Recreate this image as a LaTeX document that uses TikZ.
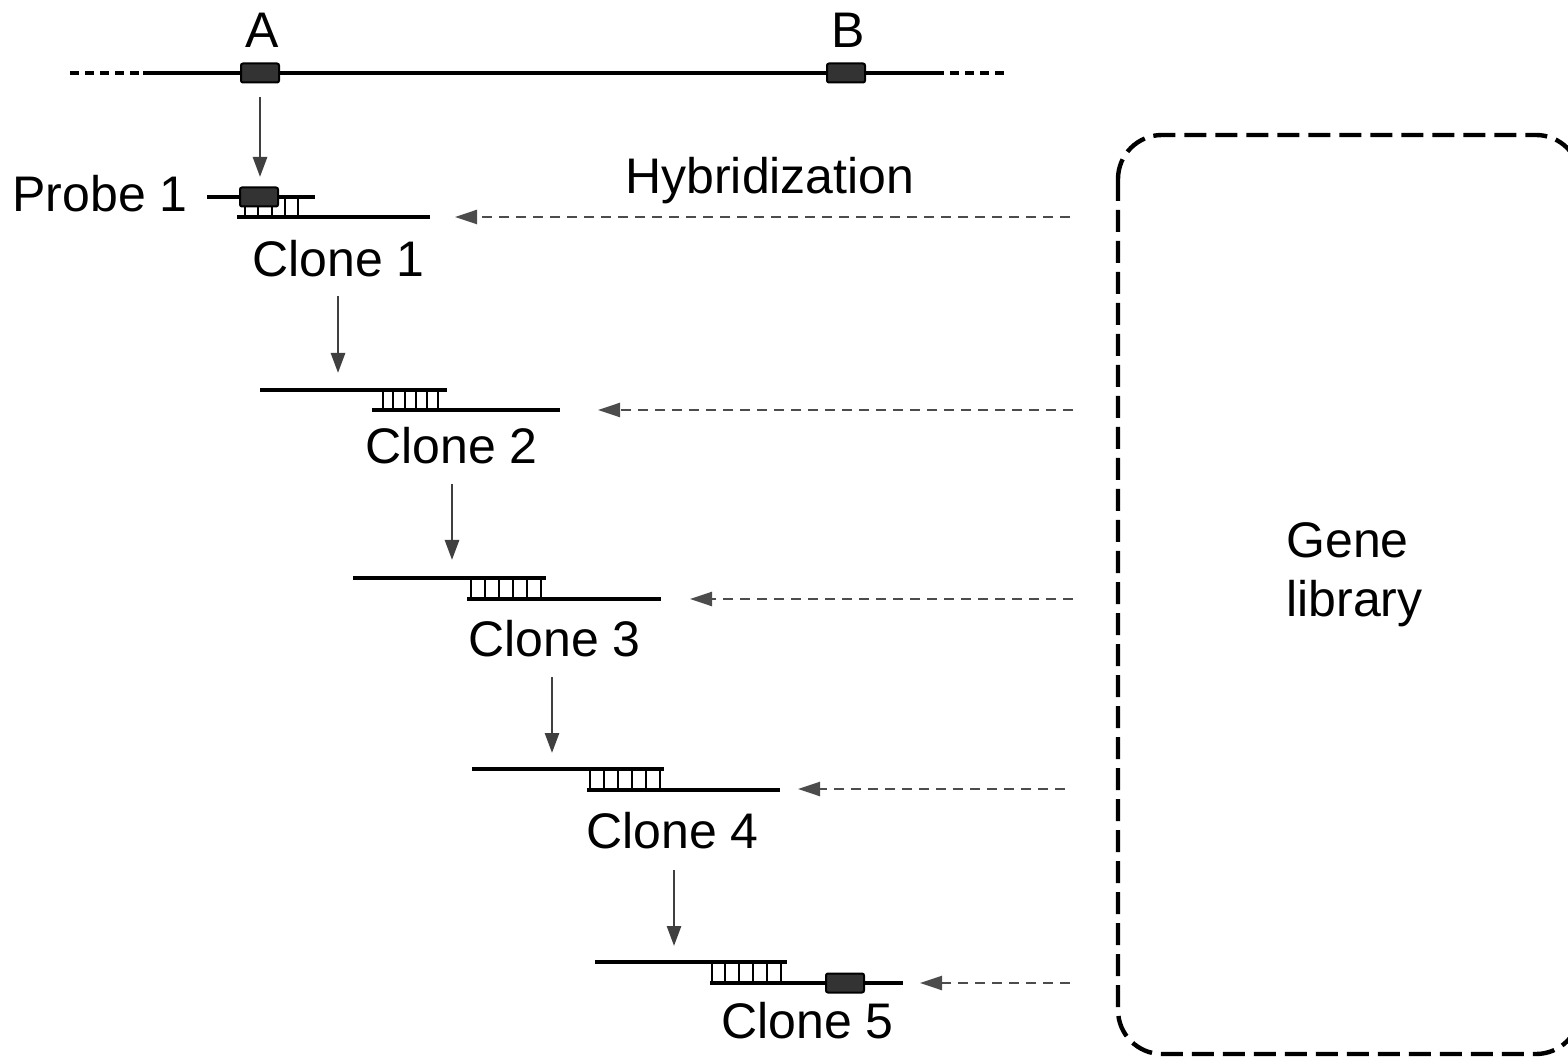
\documentclass[tikz,border=0pt]{standalone}
\usepackage{fontspec}
\setmainfont{Liberation Sans}
\usetikzlibrary{arrows.meta}
\begin{document}
\begin{tikzpicture}[x=0.5pt,y=-0.5pt,
  dna/.style={line width=2.4pt, draw=black},
  dnadash/.style={line width=2.4pt, draw=black, dash pattern=on 4.5pt off 3pt},
  rung/.style={line width=1.4pt, draw=black},
  genebox/.style={draw=black, fill=black!80, line width=1pt, rounded corners=1pt,
    minimum width=19pt, minimum height=9.5pt, inner sep=0pt},
  lbl/.style={font=\fontsize{25}{30}\selectfont, inner sep=0pt},
  walkarrow/.style={draw=black!75, line width=1.4pt, -{Triangle[length=10pt,width=7pt]}},
  libarrow/.style={draw=black!70, line width=1.2pt, dash pattern=on 5pt off 3.5pt,
    -{Triangle[length=11pt,width=7pt]}},
  libbox/.style={draw=black, line width=2.2pt, dash pattern=on 11pt off 4.5pt, rounded corners=22pt},
]
\useasboundingbox (0,0) rectangle (1568,1058);
\clip (0,0) rectangle (1568,1058);

% chromosome
\coordinate (c0) at (70,73);
\coordinate (c1) at (143,73);
\coordinate (c2) at (935,73);
\coordinate (c3) at (1008,73);
\draw[dnadash] (c0) -- (c1);
\draw[dna] (c1) -- (c2);
\draw[dnadash] (c2) -- (c3);
\node[genebox] (boxA) at (260,73) {};
\node[genebox] (boxB) at (846,73) {};
\node[lbl, anchor=base] (labA) at (262,48) {A};
\node[lbl, anchor=base] (labB) at (848,48) {B};

% arrow A -> probe
\coordinate (a0s) at (260,97);
\coordinate (a0e) at (260,177);
\draw[walkarrow] (a0s) -- (a0e);

% probe 1 / clone 1
\node[lbl, anchor=base west] (probe) at (12,212) {Probe 1};
\coordinate (p0) at (207,197);
\coordinate (p1) at (315,197);
\coordinate (k1a) at (237,217);
\coordinate (k1b) at (430,217);
\foreach \x in {245,258,272,285,298} \draw[rung] (\x,197) -- (\x,217);
\draw[dna] (p0) -- (p1);
\draw[dna] (k1a) -- (k1b);
\node[genebox] (boxP) at (259,197) {};
\node[lbl, anchor=base west] (clone1) at (252,277) {Clone 1};

\node[lbl, anchor=base west] (hyb) at (625,194) {Hybridization};

% clone 2
\coordinate (a1s) at (338,296);
\coordinate (a1e) at (338,373);
\draw[walkarrow] (a1s) -- (a1e);
\foreach \x in {383,393,405,416,427,438} \draw[rung] (\x,390) -- (\x,410);
\coordinate (t2a) at (260,390); \coordinate (t2b) at (447,390);
\coordinate (b2a) at (372,410); \coordinate (b2b) at (560,410);
\draw[dna] (t2a) -- (t2b);
\draw[dna] (b2a) -- (b2b);
\node[lbl, anchor=base west] (clone2) at (365,464) {Clone 2};

% clone 3
\coordinate (a2s) at (452,484);
\coordinate (a2e) at (452,560);
\draw[walkarrow] (a2s) -- (a2e);
\foreach \x in {471,485,499,513,527,541} \draw[rung] (\x,578) -- (\x,599);
\coordinate (t3a) at (353,578); \coordinate (t3b) at (546,578);
\coordinate (b3a) at (467,599); \coordinate (b3b) at (661,599);
\draw[dna] (t3a) -- (t3b);
\draw[dna] (b3a) -- (b3b);
\node[lbl, anchor=base west] (clone3) at (468,656) {Clone 3};

% clone 4
\coordinate (a3s) at (552,677);
\coordinate (a3e) at (552,753);
\draw[walkarrow] (a3s) -- (a3e);
\foreach \x in {590,604,618,632,646,660} \draw[rung] (\x,769) -- (\x,790);
\coordinate (t4a) at (472,769); \coordinate (t4b) at (664,769);
\coordinate (b4a) at (587,790); \coordinate (b4b) at (780,790);
\draw[dna] (t4a) -- (t4b);
\draw[dna] (b4a) -- (b4b);
\node[lbl, anchor=base west] (clone4) at (586,848) {Clone 4};

% clone 5
\coordinate (a4s) at (674,870);
\coordinate (a4e) at (674,946);
\draw[walkarrow] (a4s) -- (a4e);
\foreach \x in {712,725,739,753,767,781} \draw[rung] (\x,962) -- (\x,983);
\coordinate (t5a) at (595,962); \coordinate (t5b) at (787,962);
\coordinate (b5a) at (710,983); \coordinate (b5b) at (903,983);
\draw[dna] (t5a) -- (t5b);
\draw[dna] (b5a) -- (b5b);
\node[genebox] (box5) at (845,983) {};
\node[lbl, anchor=base west] (clone5) at (721,1038) {Clone 5};

% gene library
\draw[libbox] (1118,135) rectangle (1580,1054);
\node[lbl, anchor=base west] (gene) at (1286,558) {Gene};
\node[lbl, anchor=base west] (library) at (1286,616) {library};

% hybridization arrows
\coordinate (h1s) at (1070,217); \coordinate (h1e) at (455,217);
\coordinate (h2s) at (1073,410); \coordinate (h2e) at (598,410);
\coordinate (h3s) at (1073,599); \coordinate (h3e) at (690,599);
\coordinate (h4s) at (1065,789); \coordinate (h4e) at (798,789);
\coordinate (h5s) at (1070,983); \coordinate (h5e) at (920,983);
\foreach \i in {1,...,5} \draw[libarrow] (h\i s) -- (h\i e);
\end{tikzpicture}
\end{document}
